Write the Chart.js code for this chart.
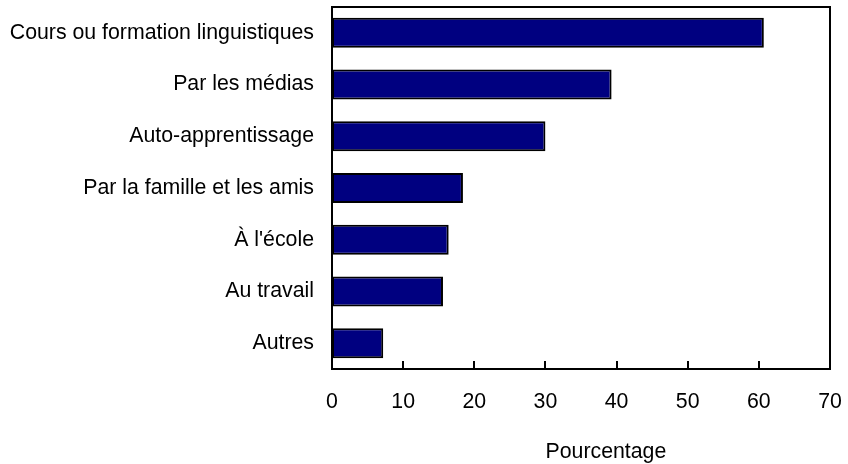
<!DOCTYPE html>
<html>
<head>
<meta charset="utf-8">
<script src="https://cdn.jsdelivr.net/npm/chart.js@4"></script>
<style>
  html, body { margin: 0; padding: 0; background: #fff; }
  #wrap { width: 848px; height: 464px; position: relative; }
</style>
</head>
<body>
<div id="wrap"><canvas id="c" width="848" height="464"></canvas></div>
<script>
const categories = [
  "Cours ou formation linguistiques",
  "Par les médias",
  "Auto-apprentissage",
  "Par la famille et les amis",
  "À l'école",
  "Au travail",
  "Autres"
];
const percentages = [60.7, 39.3, 30.0, 18.4, 16.4, 15.6, 7.2];
const xTicks = [0, 10, 20, 30, 40, 50, 60, 70];
const axisTitle = "Pourcentage";

const FONT = "'Liberation Sans', Arial, Helvetica, sans-serif";
const FSIZE = 21.3;

const framePlugin = {
  id: 'frame',
  afterDatasetsDraw(chart) {
    const { ctx, chartArea: a, scales } = chart;
    const xs = scales.x;
    ctx.save();
    ctx.strokeStyle = '#000';
    ctx.lineWidth = 2;
    ctx.beginPath();
    ctx.moveTo(a.left, a.top);
    ctx.lineTo(a.right, a.top);
    ctx.lineTo(a.right, a.bottom);
    ctx.stroke();
    ctx.beginPath();
    xTicks.forEach(v => {
      const px = Math.round(xs.getPixelForValue(v));
      ctx.moveTo(px, a.bottom);
      ctx.lineTo(px, a.bottom - 8);
    });
    ctx.stroke();
    ctx.fillStyle = '#000';
    ctx.font = FSIZE + "px " + FONT;
    ctx.textAlign = 'center';
    ctx.textBaseline = 'middle';
    ctx.fillText(axisTitle, xs.getPixelForValue(38.5), 452);
    ctx.restore();
  }
};

new Chart(document.getElementById('c'), {
  type: 'bar',
  data: {
    labels: categories,
    datasets: [{
      data: percentages,
      backgroundColor: '#000080',
      borderColor: '#000000',
      borderWidth: 2,
      borderSkipped: false,
      barPercentage: 0.58,
      categoryPercentage: 1.0
    }]
  },
  options: {
    indexAxis: 'y',
    responsive: false,
    animation: false,
    events: [],
    layout: { padding: { top: 7, right: 18, left: 0, bottom: 0 } },
    plugins: { legend: { display: false }, tooltip: { enabled: false } },
    scales: {
      x: {
        min: 0, max: 70,
        afterBuildTicks(scale) { scale.ticks = xTicks.map(v => ({ value: v })); },
        afterFit(scale) { scale.height = 95; scale.paddingLeft = 0; scale.paddingRight = 0; },
        grid: { display: false, drawTicks: false },
        border: { display: true, color: '#000', width: 2 },
        ticks: { color: '#000', padding: 20, font: { family: FONT, size: FSIZE }, maxRotation: 0, autoSkip: false }
      },
      y: {
        afterFit(scale) { scale.width = 332; scale.paddingTop = 0; scale.paddingBottom = 0; },
        grid: { display: false, drawTicks: false },
        border: { display: true, color: '#000', width: 2 },
        ticks: { color: '#000', padding: 18, font: { family: FONT, size: FSIZE }, autoSkip: false }
      }
    }
  },
  plugins: [framePlugin]
});
</script>
</body>
</html>
